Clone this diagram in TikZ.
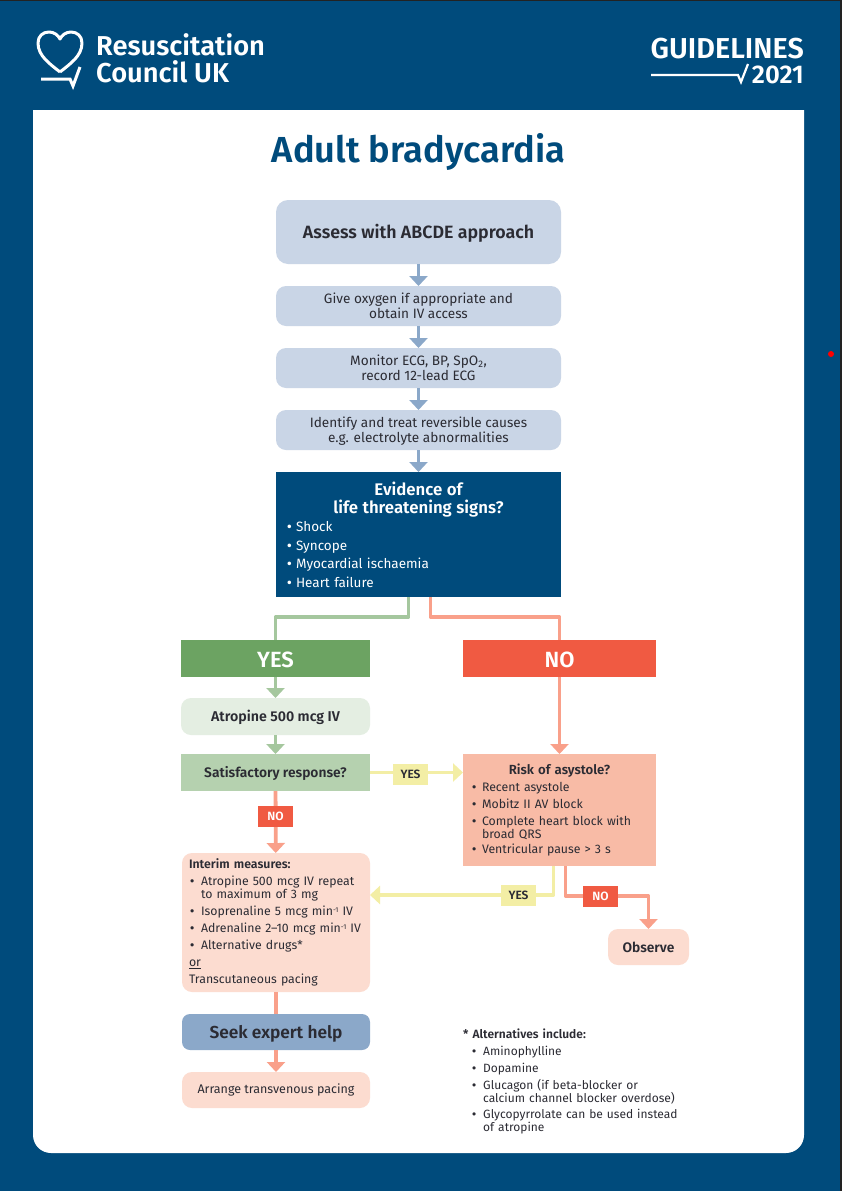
\documentclass[tikz,border=0pt]{standalone}
\usepackage{fontspec}
\setmainfont{Fira Sans}[BoldFont={Fira Sans SemiBold}]
\usetikzlibrary{arrows.meta}
\definecolor{rcblue}{HTML}{004B7C}
\definecolor{paleblue}{HTML}{C9D5E6}
\definecolor{midblue}{HTML}{8BA8C9}
\definecolor{yesgreen}{HTML}{6CA362}
\definecolor{midgreen}{HTML}{B5D1AF}
\definecolor{palegreen}{HTML}{E4EEE2}
\definecolor{nored}{HTML}{F05A42}
\definecolor{midred}{HTML}{F8BBA6}
\definecolor{palered}{HTML}{FCDCD0}
\definecolor{linered}{HTML}{F9A08A}
\definecolor{linegreen}{HTML}{A5C79E}
\definecolor{lineyellow}{HTML}{F3EEA5}
\definecolor{inktext}{HTML}{2B2B33}
\definecolor{edgedark}{HTML}{222222}
\newlength{\bulind}
\newlength{\bulpad}
\newlength{\bulgap}
\setlength{\bulgap}{4pt}
\setlength{\bulpad}{1pt}
\newcommand{\bul}[1]{\par\vskip\bulgap\noindent\hbox to \bulind{\hspace{\bulpad}\textbf{\textbullet}\hfil}\parbox[t]{\dimexpr\hsize-\bulind}{\raggedright #1}\par}
\newcommand{\permin}{\raisebox{3.6pt}{\fontsize{7}{7}\selectfont -1}}
\newcommand{\txtlist}{\fontsize{12.3}{13}\selectfont}
\newcommand{\txtbox}{\fontsize{13.6}{15}\selectfont}
\tikzset{
  flowbox/.style={minimum width=#1, inner sep=0pt, outer sep=0pt, align=center, text=inktext},
  softbox/.style={flowbox=285pt, fill=paleblue, rounded corners=10pt, minimum height=40pt, text depth=0pt, font=\txtbox},
  sidebox/.style={flowbox=189pt, minimum height=37pt, text height=12pt, text depth=2pt, font=\bfseries\fontsize{14.2}{15}\selectfont},
  headbox/.style={flowbox=#1, minimum height=37pt, text height=17pt, text depth=0pt, text=white, font=\fontsize{22}{24}\selectfont\bfseries},
  tagbox/.style={minimum width=35pt, minimum height=21pt, inner sep=0pt, outer sep=0pt, font=\bfseries\fontsize{12}{13}\selectfont},
  tagyes/.style={tagbox, fill=lineyellow, text=inktext},
  tagno/.style={tagbox, fill=nored, text=white},
  joinline/.style={line width=3.8pt, line join=round, draw=#1},
  flowline/.style={joinline=#1, -{Triangle[width=18pt,length=10pt]}},
}
\begin{document}
\begin{tikzpicture}[x=1pt,y=-1pt]
  \useasboundingbox (0,0) rectangle (842,1191);
  \fill[rcblue] (0,0) rectangle (842,1191);
  \fill[edgedark] (0,0) rectangle (842,1);
  \fill[edgedark] (840,0) rectangle (842,1191);
  \fill[white] (33,110) -- (804,110) -- (804,1135) arc[start angle=0,end angle=90,radius=18] -- (51,1153) arc[start angle=90,end angle=180,radius=18] -- cycle;
  \fill[red] (831,354) circle (3);
  % logo
  \draw[white,line width=3pt,line join=round] (60,72)
    .. controls (50,64) and (38,56) .. (38,43)
    .. controls (38,36) and (43,32) .. (49,32)
    .. controls (54,32) and (58,35) .. (60,39)
    .. controls (62,35) and (66,32) .. (71,32)
    .. controls (77,32) and (82,36) .. (82,43)
    .. controls (82,56) and (70,64) .. (60,72);
  \draw[white,line width=3pt] (41,79) -- (70,79) -- (73,86) -- (80,67);
  \node[anchor=west,inner sep=0pt,text=white,align=left,font=\fontsize{27.3}{27.5}\selectfont\bfseries] (council) at (96,58.5) {Resuscitation\\Council UK};
  \node[anchor=base east,inner sep=0pt,text=white,text height=18pt,text depth=0pt,font=\fontsize{28.8}{28}\selectfont\bfseries] (guide) at (804,58.5) {GUIDELINES};
  \node[anchor=base east,inner sep=0pt,text=white,text height=18pt,text depth=0pt,font=\fontsize{25.6}{28}\selectfont\bfseries] (year) at (804,83.5) {2021};
  \draw[white,line width=2.2pt] (651,75) -- (738,75) -- (741,82) -- (748,64);
  \node[text=rcblue,inner sep=0pt,font=\fontsize{36.2}{38}\selectfont\bfseries] (title) at (418.5,152) {Adult bradycardia};
  % main column
  \node[softbox, minimum height=64pt, rounded corners=12pt, text height=14pt, text depth=2pt, font=\bfseries\fontsize{17.8}{18}\selectfont] (assess) at (418.5,232) {Assess with ABCDE approach};
  \node[softbox] (oxygen) at (418.5,306) {Give oxygen if appropriate and\\obtain IV access};
  \node[softbox] (monitor) at (418.5,368) {Monitor ECG, BP, SpO\textsubscript{2},\\record 12-lead ECG};
  \node[softbox] (causes) at (418.5,430) {Identify and treat reversible causes\\e.g. electrolyte abnormalities};
  \node[flowbox=285pt, minimum height=125pt, fill=rcblue, text=white, text width=265pt, align=left, font=\fontsize{13.5}{14.5}\selectfont] (signs) at (418.5,534.5) {%
    \setlength{\bulind}{10pt}%
    \parbox[t]{\hsize}{\centering\bfseries\fontsize{16.8}{18}\selectfont Evidence of\\life threatening signs?}\par
    \bul{Shock}\bul{Syncope}\bul{Myocardial ischaemia}\bul{Heart failure}};
  % left column
  \node[headbox=189pt, fill=yesgreen] (yes) at (275.5,658.5) {YES};
  \node[sidebox, fill=palegreen, rounded corners=10pt] (atropine) at (275.5,716.5) {Atropine 500 mcg IV};
  \node[sidebox, fill=midgreen, font=\bfseries\fontsize{13.8}{15}\selectfont] (response) at (275.5,772.5) {Satisfactory response?};
  \node[flowbox=188pt, minimum height=139pt, fill=palered, rounded corners=10pt, text width=174pt, align=left, font=\txtlist] (interim) at (276,922.5) {%
    \setlength{\bulind}{12pt}%
    \textbf{Interim measures:}
    \bul{Atropine 500 mcg IV repeat\\to maximum of 3 mg}
    \bul{Isoprenaline 5 mcg min\permin{} IV}
    \bul{\mbox{Adrenaline 2--10 mcg min\permin{} IV}}
    \bul{Alternative drugs*}
    \vskip\bulgap\noindent\underline{or}\par
    \vskip\bulgap\noindent Transcutaneous pacing};
  \node[sidebox, flowbox=188pt, minimum height=36pt, fill=midblue, rounded corners=8pt, text height=14pt, text depth=1pt, font=\bfseries\fontsize{17.3}{18}\selectfont] (expert) at (276,1032) {Seek expert help};
  \node[flowbox=188pt, minimum height=36pt, fill=palered, rounded corners=10pt, font=\fontsize{12.5}{13}\selectfont] (pacing) at (276,1090) {Arrange transvenous pacing};
  % right column
  \node[headbox=193pt, fill=nored] (no) at (559.5,658.5) {NO};
  \node[flowbox=193pt, minimum height=112pt, fill=midred, text width=177pt, align=left, font=\txtlist] (risk) at (559.5,810) {%
    \setlength{\bulind}{11pt}%
    \makebox[\hsize]{\bfseries\fontsize{13.2}{15}\selectfont Risk of asystole?}\par
    \bul{Recent asystole}
    \bul{Mobitz II AV block}
    \bul{Complete heart block with\\broad QRS}
    \bul{Ventricular pause > 3 s}};
  \node[flowbox=81pt, minimum height=36pt, fill=palered, rounded corners=10pt, text height=11pt, text depth=1pt, font=\bfseries\fontsize{13.8}{15}\selectfont] (observe) at (648.5,947) {Observe};
  \node[anchor=north west, inner sep=0pt, text=inktext, text width=225pt, align=left, font=\fontsize{12}{13}\selectfont] (alt) at (463,1029) {%
    \setlength{\bulind}{20pt}\setlength{\bulpad}{9pt}%
    \textbf{* Alternatives include:}
    \bul{Aminophylline}
    \bul{Dopamine}
    \bul{Glucagon (if beta-blocker or\\calcium channel blocker overdose)}
    \bul{Glycopyrrolate can be used instead\\of atropine}};
  % connectors
  \begin{scope}[flowline=midblue]
    \draw (assess) to (oxygen);
    \draw (oxygen) to (monitor);
    \draw (monitor) to (causes);
    \draw (causes) to (signs);
  \end{scope}
  \begin{scope}[flowline=linegreen]
    \draw (yes) to (atropine);
    \draw (atropine) to (response);
  \end{scope}
  \begin{scope}[flowline=linered]
    \draw (no) to (risk);
    \draw (response) to (interim);
    \draw (expert) to (pacing);
    \draw ([xshift=6pt]risk.south) -- ++(0,30) -| (observe.north);
  \end{scope}
  \begin{scope}[flowline=lineyellow]
    \draw (response.east) -- (response.east -| risk.west);
    \draw ([xshift=-6pt]risk.south) |- ([yshift=27.5pt]interim.east);
  \end{scope}
  \draw[joinline=linegreen] ([xshift=-10pt]signs.south) -- ++(0,20) -| (yes.north);
  \draw[joinline=linered] ([xshift=12pt]signs.south) -- ++(0,20) -| (no.north);
  \draw[joinline=linered] (interim) to (expert);
  % tags sit on the lines
  \node[tagyes] (tagright) at (410.5,774.5) {YES};
  \node[tagno] (tagdown) at (275.5,816.5) {NO};
  \node[tagyes] (tagleft) at (518.5,895.5) {YES};
  \node[tagno] (tagobs) at (600.5,896.5) {NO};
\end{tikzpicture}
\end{document}
